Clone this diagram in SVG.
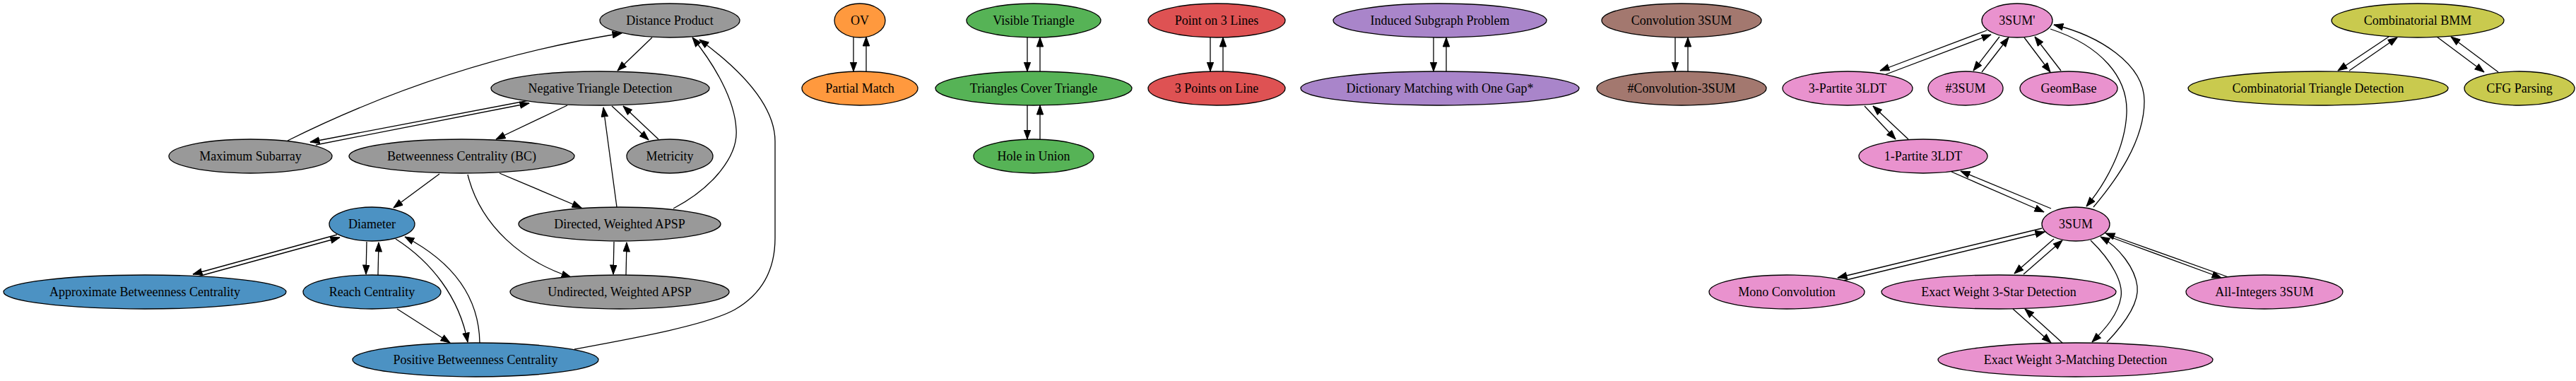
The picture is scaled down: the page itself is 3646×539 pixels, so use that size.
<svg xmlns="http://www.w3.org/2000/svg" width="3646" height="539" viewBox="0 0 3646 539">
<style>
  .node ellipse { stroke: #000; stroke-width: 1.3; }
  .node text { font-family: "Liberation Serif", "Times New Roman", serif; font-size: 18px; text-anchor: middle; fill: #000; }
  .gray { fill: #999999; }
  .blue { fill: #4c92c3; }
  .orange { fill: #ff993e; }
  .green { fill: #56b356; }
  .red { fill: #de5253; }
  .purple { fill: #a985ca; }
  .brown { fill: #a3786f; }
  .pink { fill: #e992ce; }
  .olive { fill: #c9ca4e; }
  #edges path { fill: none; stroke: #000; stroke-width: 1.3; marker-end: url(#arrow); }
</style>
<defs>
  <marker id="arrow" markerUnits="userSpaceOnUse" markerWidth="14" markerHeight="11" viewBox="-0.5 -0.5 14 11" refX="13" refY="4.7" orient="auto">
    <path d="M0,0 L13,4.7 L0,9.4 z" fill="#000" stroke="#000" stroke-width="1"/>
  </marker>
</defs>
<rect width="3646" height="539" fill="#fff"/>

<g id="edges">
  <!-- gray cluster -->
  <path d="M923,53 L874,100"/>
  <path d="M407,199 Q632,87 880,47"/>
  <path d="M447,205 L749,146"/>
  <path d="M749,142 L439,201"/>
  <path d="M803,149 L702,197"/>
  <path d="M866,150 L918,198"/>
  <path d="M932,197 L882,150"/>
  <path d="M873,293 L854,152"/>
  <path d="M953,295 C1010,265 1045,220 1042,183 C1040,140 1010,90 980,53"/>
  <path d="M813,494 C900,478 1000,460 1040,438 C1080,415 1097,380 1097,337 L1097,200 C1097,150 1050,100 990,56"/>
  <path d="M622,246 L557,294"/>
  <path d="M707,245 L823,294"/>
  <path d="M662,247 C680,320 740,370 808,392"/>
  <path d="M869,342 L868,388"/>
  <path d="M886,389 L887,343"/>
  <path d="M519,342 L518,388"/>
  <path d="M535,389 L536,343"/>
  <path d="M477,332 L273,388"/>
  <path d="M277,392 L481,336"/>
  <path d="M560,338 C610,370 650,420 662,484"/>
  <path d="M679,485 C678,420 640,370 573,335"/>
  <path d="M562,437 L637,485"/>
  <!-- vertical pairs -->
  <path d="M1208,52 L1208,101"/>
  <path d="M1226,101 L1226,52"/>
  <path d="M1454,53 L1454,101"/>
  <path d="M1472,101 L1472,53"/>
  <path d="M1454,149 L1454,197"/>
  <path d="M1472,197 L1472,149"/>
  <path d="M1713,53 L1713,101"/>
  <path d="M1731,101 L1731,53"/>
  <path d="M2029,53 L2029,101"/>
  <path d="M2047,101 L2047,53"/>
  <path d="M2371,53 L2371,101"/>
  <path d="M2389,101 L2389,53"/>
  <!-- pink cluster -->
  <path d="M2812,43 L2661,100"/>
  <path d="M2667,106 L2818,49"/>
  <path d="M2830,52 L2793,100"/>
  <path d="M2805,102 L2843,53"/>
  <path d="M2865,53 L2902,102"/>
  <path d="M2917,100 L2880,52"/>
  <path d="M2639,150 L2683,197"/>
  <path d="M2701,197 L2651,150"/>
  <path d="M2762,243 L2893,300"/>
  <path d="M2903,295 L2775,242"/>
  <path d="M2902,41 C2975,65 3012,110 3010,160 C3008,210 2980,260 2953,292"/>
  <path d="M2963,293 C2995,255 3035,200 3035,143 C3035,90 2970,50 2907,35"/>
  <path d="M2890,323 L2601,393"/>
  <path d="M2605,398 L2894,328"/>
  <path d="M2907,338 L2851,387"/>
  <path d="M2864,388 L2919,340"/>
  <path d="M2849,437 L2903,485"/>
  <path d="M2919,485 L2866,437"/>
  <path d="M2959,340 C2990,370 3005,400 3002,420 C2998,445 2980,465 2961,484"/>
  <path d="M2982,484 C3005,460 3028,430 3025,405 C3022,380 3000,350 2973,335"/>
  <path d="M2986,335 L3144,393"/>
  <path d="M3154,392 L2980,330"/>
  <!-- olive cluster -->
  <path d="M3381,52 L3309,100"/>
  <path d="M3325,100 L3393,53"/>
  <path d="M3449,52 L3516,102"/>
  <path d="M3536,102 L3469,52"/>
</g>

<g id="n-distance-product" class="node"><ellipse class="gray" cx="948" cy="29" rx="99" ry="24"/><text x="948" y="35">Distance Product</text></g>
<g id="n-negative-triangle" class="node"><ellipse class="gray" cx="849.5" cy="125" rx="154.5" ry="24"/><text x="849.5" y="131">Negative Triangle Detection</text></g>
<g id="n-max-subarray" class="node"><ellipse class="gray" cx="354.5" cy="221" rx="115.5" ry="24"/><text x="354.5" y="227">Maximum Subarray</text></g>
<g id="n-bc" class="node"><ellipse class="gray" cx="653.5" cy="221" rx="159.5" ry="24"/><text x="653.5" y="227">Betweenness Centrality (BC)</text></g>
<g id="n-metricity" class="node"><ellipse class="gray" cx="948" cy="221" rx="61" ry="24"/><text x="948" y="227">Metricity</text></g>
<g id="n-directed-apsp" class="node"><ellipse class="gray" cx="877" cy="317" rx="143" ry="24"/><text x="877" y="323">Directed, Weighted APSP</text></g>
<g id="n-undirected-apsp" class="node"><ellipse class="gray" cx="877" cy="413" rx="155" ry="24"/><text x="877" y="419">Undirected, Weighted APSP</text></g>

<g id="n-diameter" class="node"><ellipse class="blue" cx="526.5" cy="317" rx="60.5" ry="24"/><text x="526.5" y="323">Diameter</text></g>
<g id="n-approx-bc" class="node"><ellipse class="blue" cx="205" cy="413" rx="200" ry="24"/><text x="205" y="419">Approximate Betweenness Centrality</text></g>
<g id="n-reach" class="node"><ellipse class="blue" cx="526.5" cy="413" rx="97.5" ry="24"/><text x="526.5" y="419">Reach Centrality</text></g>
<g id="n-positive-bc" class="node"><ellipse class="blue" cx="673" cy="509" rx="174" ry="24"/><text x="673" y="515">Positive Betweenness Centrality</text></g>

<g id="n-ov" class="node"><ellipse class="orange" cx="1217" cy="29" rx="36" ry="24"/><text x="1217" y="35">OV</text></g>
<g id="n-partial-match" class="node"><ellipse class="orange" cx="1217" cy="125" rx="82" ry="24"/><text x="1217" y="131">Partial Match</text></g>

<g id="n-visible-triangle" class="node"><ellipse class="green" cx="1463" cy="29" rx="95" ry="24"/><text x="1463" y="35">Visible Triangle</text></g>
<g id="n-triangles-cover" class="node"><ellipse class="green" cx="1463" cy="125" rx="139" ry="24"/><text x="1463" y="131">Triangles Cover Triangle</text></g>
<g id="n-hole-union" class="node"><ellipse class="green" cx="1463" cy="221" rx="85" ry="24"/><text x="1463" y="227">Hole in Union</text></g>

<g id="n-point-3-lines" class="node"><ellipse class="red" cx="1722" cy="29" rx="97" ry="24"/><text x="1722" y="35">Point on 3 Lines</text></g>
<g id="n-3-points-line" class="node"><ellipse class="red" cx="1722" cy="125" rx="97" ry="24"/><text x="1722" y="131">3 Points on Line</text></g>

<g id="n-induced-subgraph" class="node"><ellipse class="purple" cx="2038" cy="29" rx="151" ry="24"/><text x="2038" y="35">Induced Subgraph Problem</text></g>
<g id="n-dictionary" class="node"><ellipse class="purple" cx="2038" cy="125" rx="197" ry="24"/><text x="2038" y="131">Dictionary Matching with One Gap*</text></g>

<g id="n-conv-3sum" class="node"><ellipse class="brown" cx="2380" cy="29" rx="113" ry="24"/><text x="2380" y="35">Convolution 3SUM</text></g>
<g id="n-count-conv-3sum" class="node"><ellipse class="brown" cx="2380" cy="125" rx="120" ry="24"/><text x="2380" y="131">#Convolution-3SUM</text></g>

<g id="n-3sum-prime" class="node"><ellipse class="pink" cx="2855" cy="29" rx="50" ry="24"/><text x="2855" y="35">3SUM'</text></g>
<g id="n-3partite" class="node"><ellipse class="pink" cx="2615" cy="125" rx="92" ry="24"/><text x="2615" y="131">3-Partite 3LDT</text></g>
<g id="n-count-3sum" class="node"><ellipse class="pink" cx="2782" cy="125" rx="53" ry="24"/><text x="2782" y="131">#3SUM</text></g>
<g id="n-geombase" class="node"><ellipse class="pink" cx="2928" cy="125" rx="69" ry="24"/><text x="2928" y="131">GeomBase</text></g>
<g id="n-1partite" class="node"><ellipse class="pink" cx="2722" cy="221" rx="91" ry="24"/><text x="2722" y="227">1-Partite 3LDT</text></g>
<g id="n-3sum" class="node"><ellipse class="pink" cx="2938" cy="317" rx="48" ry="24"/><text x="2938" y="323">3SUM</text></g>
<g id="n-mono-conv" class="node"><ellipse class="pink" cx="2529" cy="413" rx="110" ry="24"/><text x="2529" y="419">Mono Convolution</text></g>
<g id="n-ew-3star" class="node"><ellipse class="pink" cx="2829" cy="413" rx="166" ry="24"/><text x="2829" y="419">Exact Weight 3-Star Detection</text></g>
<g id="n-all-integers" class="node"><ellipse class="pink" cx="3205" cy="413" rx="111" ry="24"/><text x="3205" y="419">All-Integers 3SUM</text></g>
<g id="n-ew-3matching" class="node"><ellipse class="pink" cx="2937.5" cy="509" rx="194.5" ry="24"/><text x="2937.5" y="515">Exact Weight 3-Matching Detection</text></g>

<g id="n-comb-bmm" class="node"><ellipse class="olive" cx="3422" cy="29" rx="122" ry="24"/><text x="3422" y="35">Combinatorial BMM</text></g>
<g id="n-comb-triangle" class="node"><ellipse class="olive" cx="3281" cy="125" rx="184" ry="24"/><text x="3281" y="131">Combinatorial Triangle Detection</text></g>
<g id="n-cfg" class="node"><ellipse class="olive" cx="3566" cy="125" rx="78" ry="24"/><text x="3566" y="131">CFG Parsing</text></g>
</svg>
